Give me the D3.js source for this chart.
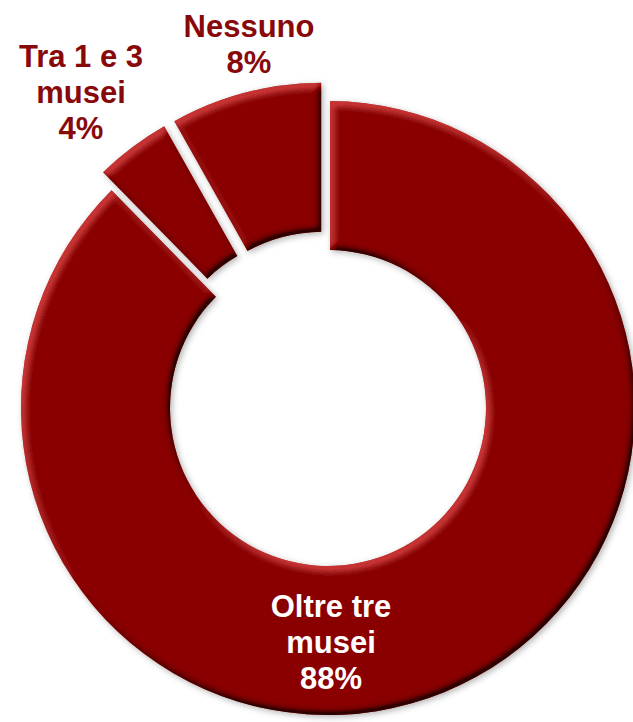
<!DOCTYPE html>
<html>
<head>
<meta charset="utf-8">
<script src="https://cdn.jsdelivr.net/npm/d3@7/dist/d3.min.js"></script>
<style>
  html, body { margin: 0; padding: 0; background: #ffffff; }
  svg { display: block; }
  text { font-family: "Liberation Sans", Arial, Helvetica, sans-serif; font-weight: bold; }
</style>
</head>
<body>
<svg id="chart" width="633" height="722"></svg>
<script>
// Visitatori per numero di musei visitati
const categories = ["Oltre tre musei", "Tra 1 e 3 musei", "Nessuno"];
const values = [88, 4, 8];
// How each category name is split over lines in its label
const labelLines = [["Oltre tre", "musei"], ["Tra 1 e 3", "musei"], ["Nessuno"]];

// Layout
const cx = 328, cy = 408;
const outerR = 307, innerR = 158;
const gap = 4;                 // white gap between slices, px
const explode = [0, 19, 19];   // slice pull-out distance, px
const labelPos = [            // centre x and first baseline of each label
  { x: 331, y: 617, fill: "#ffffff" },
  { x: 81,  y: 67,  fill: "#880909" },
  { x: 249, y: 37,  fill: "#880909" }
];
const lineH = 36;
const fontSize = 31;

const svg = d3.select("#chart");
const defs = svg.append("defs");

// Bevel: light rim on edges facing up/left, dark rim on edges facing down/right,
// plus a soft drop shadow
const f = defs.append("filter").attr("id", "bevel")
  .attr("x", "-10%").attr("y", "-10%").attr("width", "120%").attr("height", "120%");
f.append("feGaussianBlur").attr("in", "SourceAlpha").attr("stdDeviation", 3).attr("result", "b");
f.append("feOffset").attr("in", "b").attr("dx", 2.5).attr("dy", 3.5).attr("result", "bDown");
f.append("feOffset").attr("in", "b").attr("dx", -2.5).attr("dy", -3.5).attr("result", "bUp");
// highlight = bUp - bDown, shadow = bDown - bUp
f.append("feComposite").attr("in", "bUp").attr("in2", "bDown").attr("operator", "arithmetic")
  .attr("k1", 0).attr("k2", 1.6).attr("k3", -1.6).attr("k4", 0).attr("result", "hiM");
f.append("feComposite").attr("in", "bDown").attr("in2", "bUp").attr("operator", "arithmetic")
  .attr("k1", 0).attr("k2", 1.8).attr("k3", -1.8).attr("k4", 0).attr("result", "shM");
f.append("feFlood").attr("flood-color", "#d93c3c").attr("flood-opacity", 0.7).attr("result", "hiCol");
f.append("feComposite").attr("in", "hiCol").attr("in2", "hiM").attr("operator", "in").attr("result", "hi0");
f.append("feComposite").attr("in", "hi0").attr("in2", "SourceAlpha").attr("operator", "in").attr("result", "hi");
f.append("feFlood").attr("flood-color", "#120000").attr("flood-opacity", 0.9).attr("result", "shCol");
f.append("feComposite").attr("in", "shCol").attr("in2", "shM").attr("operator", "in").attr("result", "sh0");
f.append("feComposite").attr("in", "sh0").attr("in2", "SourceAlpha").attr("operator", "in").attr("result", "sh");
f.append("feOffset").attr("in", "b").attr("dx", 1.5).attr("dy", 1.5).attr("result", "ds0");
f.append("feFlood").attr("flood-color", "#000000").attr("flood-opacity", 0.3).attr("result", "dsCol");
f.append("feComposite").attr("in", "dsCol").attr("in2", "ds0").attr("operator", "in").attr("result", "ds");
const m = f.append("feMerge");
["ds", "SourceGraphic", "hi", "sh"].forEach(n => m.append("feMergeNode").attr("in", n));

const data = categories.map((c, i) => ({ name: c, value: values[i], i }));

const pie = d3.pie()
  .sort(null)
  .value(d => d.value)
  .startAngle(0)
  .endAngle(2 * Math.PI)
  .padAngle(gap / 300);

const arc = d3.arc()
  .innerRadius(innerR)
  .outerRadius(outerR)
  .padRadius(300);

const arcs = pie(data);

const g = svg.append("g").attr("transform", `translate(${cx},${cy})`);

g.selectAll("path.slice")
  .data(arcs)
  .join("path")
  .attr("class", "slice")
  .attr("d", arc)
  .attr("fill", "#8a0606")
  .attr("filter", "url(#bevel)")
  .attr("transform", d => {
    const a = (d.startAngle + d.endAngle) / 2;
    const k = explode[d.data.i];
    return `translate(${k * Math.sin(a)},${-k * Math.cos(a)})`;
  });

// Labels: name lines followed by the percentage
const labels = svg.append("g");
data.forEach((d, i) => {
  const lines = labelLines[i].concat([d.value + "%"]);
  const p = labelPos[i];
  const t = labels.append("text")
    .attr("text-anchor", "middle")
    .attr("font-size", fontSize)
    .attr("fill", p.fill);
  lines.forEach((ln, j) => {
    t.append("tspan").attr("x", p.x).attr("y", p.y + j * lineH).text(ln);
  });
});
</script>
</body>
</html>
